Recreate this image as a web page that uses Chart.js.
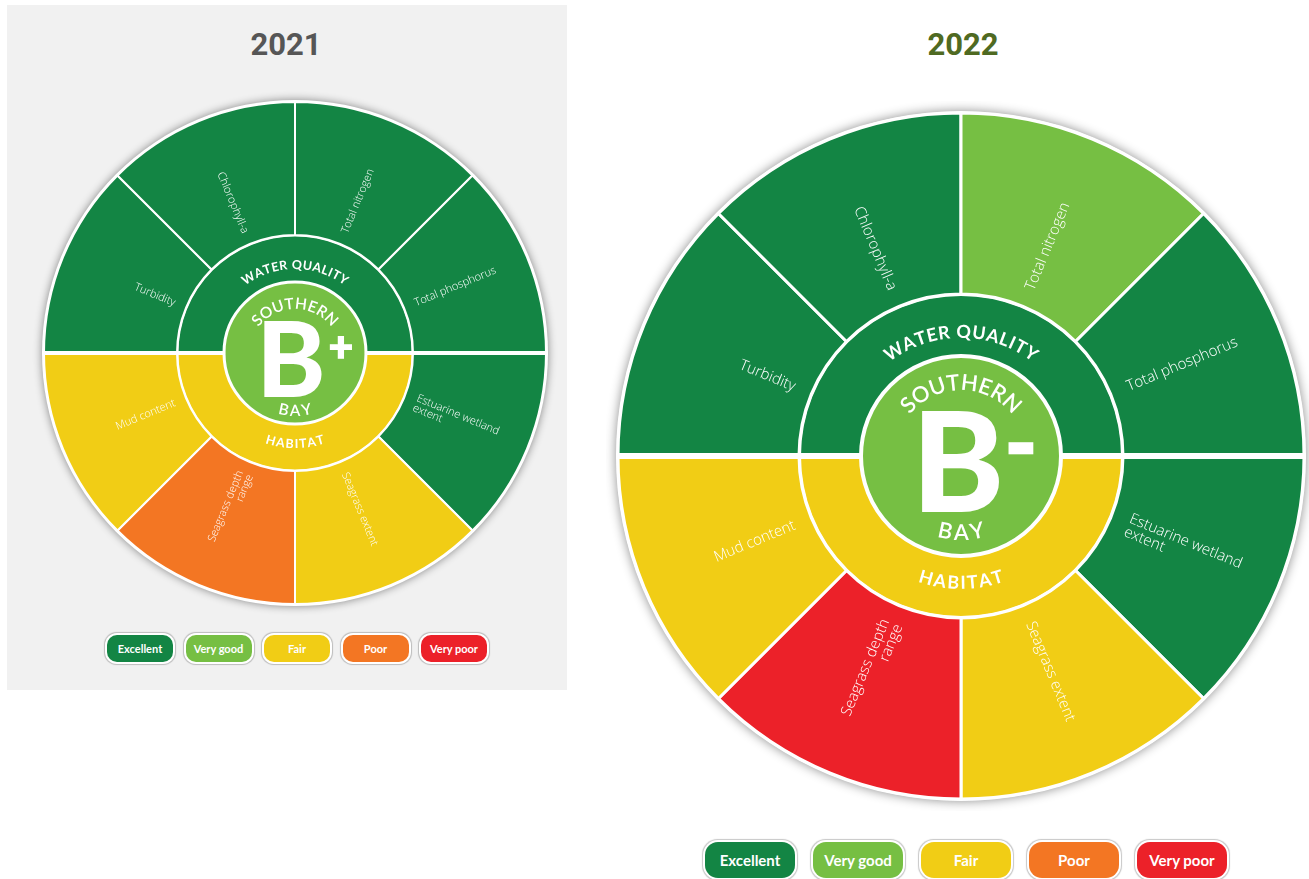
<!DOCTYPE html>
<html><head><meta charset="utf-8">
<script src="https://cdn.jsdelivr.net/npm/chart.js@4.4.1/dist/chart.umd.min.js"></script>
<style>
html,body{margin:0;padding:0;background:#fff;overflow:hidden;width:1309px;height:879px;position:relative;font-family:Lato,'Open Sans',sans-serif}
#panel2021{position:absolute;left:7px;top:5px;width:560px;height:685px;background:#f1f1f1}
.title{position:absolute;font-family:Roboto,sans-serif;font-weight:700;font-size:31px;line-height:31px;transform:translateX(-50%);top:29px;white-space:nowrap}
canvas{position:absolute}
.legend{position:absolute;display:flex}
.pill{color:#fff;font-weight:700;display:flex;align-items:center;justify-content:center;box-shadow:0 0 0 2px #fff,0 0 1px 2.6px rgba(0,0,0,0.22);font-family:Lato,sans-serif}
</style></head><body>
<div id="panel2021"></div>
<div class="title" id="t2021" style="left:286px;color:#565656"></div>
<div class="title" id="t2022" style="left:963px;color:#4f6a22"></div>
<canvas id="c2021" width="540" height="540" style="left:25px;top:83px"></canvas>
<canvas id="c2022" width="710" height="710" style="left:606px;top:101px"></canvas>
<div class="legend" id="l2021" style="left:107px;top:635px"></div>
<div class="legend" id="l2022" style="left:705px;top:842px"></div>
<script>
// ---- data ----
const years = ['2021', '2022'];
const ratingNames = ['Excellent', 'Very good', 'Fair', 'Poor', 'Very poor'];
const ratingColors = ['#138544', '#76bf43', '#f1cd15', '#f37623', '#ec2129'];
const indicators = ['Turbidity', 'Chlorophyll-a', 'Total nitrogen', 'Total phosphorus', 'Estuarine wetland extent', 'Seagrass extent', 'Seagrass depth range', 'Mud content'];
const indicatorLines = [['Turbidity'], ['Chlorophyll-a'], ['Total nitrogen'], ['Total phosphorus'], ['Estuarine wetland', 'extent'], ['Seagrass extent'], ['Seagrass depth', 'range'], ['Mud content']];
const indicatorWeights = [1, 1, 1, 1, 1, 1, 1, 1];
const indices = ['Water quality', 'Habitat'];
const indexWeights = [1, 1];
const regionWords = ['SOUTHERN', 'BAY'];
const indicatorGrades2021 = ['Excellent', 'Excellent', 'Excellent', 'Excellent', 'Excellent', 'Fair', 'Poor', 'Fair'];
const indicatorGrades2022 = ['Excellent', 'Excellent', 'Very good', 'Excellent', 'Excellent', 'Fair', 'Very poor', 'Fair'];
const indexGrades2021 = ['Excellent', 'Fair'];
const indexGrades2022 = ['Excellent', 'Fair'];
const overallRating2021 = 'Very good';
const overallRating2022 = 'Very good';
const overallGrade2021 = ['B', '+'];
const overallGrade2022 = ['B', '-'];

const colorOf = g => ratingColors[ratingNames.indexOf(g)];

function arcText(ctx, text, cx, cy, r, top, spacing) {
  const chars = [...text];
  const ws = chars.map(c => ctx.measureText(c).width);
  const total = ws.reduce((a, b) => a + b, 0) + spacing * (chars.length - 1);
  let acc = 0;
  ctx.textAlign = 'center'; ctx.textBaseline = 'middle';
  chars.forEach((c, i) => {
    const s = (acc + ws[i] / 2) / r;
    const a = top ? -Math.PI / 2 - total / (2 * r) + s : Math.PI / 2 + total / (2 * r) - s;
    ctx.save();
    ctx.translate(cx + r * Math.cos(a), cy + r * Math.sin(a));
    ctx.rotate(top ? a + Math.PI / 2 : a - Math.PI / 2);
    ctx.fillText(c, 0, 0);
    ctx.restore();
    acc += ws[i] + spacing;
  });
}

const ringDecor = {
  id: 'ringDecor',
  beforeDatasetsDraw(chart, args, o) {
    const a = chart.getDatasetMeta(0).data[0];
    const ctx = chart.ctx;
    ctx.save();
    ctx.shadowColor = 'rgba(0,0,0,0.45)';
    ctx.shadowBlur = o.shadowBlur;
    ctx.fillStyle = '#fff';
    ctx.beginPath(); ctx.arc(a.x, a.y, a.outerRadius + o.rim, 0, Math.PI * 2); ctx.fill();
    ctx.restore();
  },
  afterDatasetsDraw(chart, args, o) {
    const ctx = chart.ctx;
    const outer = chart.getDatasetMeta(0).data;
    const mid = chart.getDatasetMeta(1).data;
    const core = chart.getDatasetMeta(2).data[0];
    const cx = core.x, cy = core.y, R = outer[0].outerRadius, rC = core.outerRadius;
    ctx.save();
    // horizontal separator between the two halves
    ctx.fillStyle = '#fff';
    ctx.fillRect(cx - R - 2, cy - o.gap / 2, R + 2 - rC, o.gap);
    ctx.fillRect(cx + rC, cy - o.gap / 2, R + 2 - rC, o.gap);
    // indicator labels
    ctx.fillStyle = '#fff';
    ctx.font = `300 ${o.labelSize}px 'Open Sans', Lato, sans-serif`;
    outer.forEach((arc, i) => {
      const a = (arc.startAngle + arc.endAngle) / 2;
      const r0 = arc.innerRadius + o.labelOffset;
      const right = Math.cos(a) >= 0;
      ctx.save();
      ctx.translate(cx + r0 * Math.cos(a), cy + r0 * Math.sin(a));
      ctx.rotate(right ? a : a + Math.PI);
      ctx.textAlign = right ? 'left' : 'right';
      ctx.textBaseline = 'middle';
      const lines = indicatorLines[i];
      const lh = o.labelSize * 0.95;
      lines.forEach((ln, j) => ctx.fillText(ln, 0, (j - (lines.length - 1) / 2) * lh));
      ctx.restore();
    });
    // index labels (curved)
    ctx.font = `700 ${o.indexSize}px Lato, sans-serif`;
    mid.forEach((arc, i) => {
      const a = (arc.startAngle + arc.endAngle) / 2;
      const top = Math.sin(a) < 0;
      arcText(ctx, indices[i].toUpperCase(), cx, cy, top ? o.indexR : o.indexR + o.indexBottomAdj, top, o.indexSpacing);
    });
    // centre
    ctx.font = `600 ${o.regionSize}px Lato, sans-serif`;
    arcText(ctx, regionWords[0], cx, cy + o.coreDy, o.regionTopR, true, o.regionSpacing);
    arcText(ctx, regionWords[1], cx, cy + o.coreDy, o.regionBottomR, false, o.regionSpacing);
    ctx.textAlign = 'center'; ctx.textBaseline = 'alphabetic';
    ctx.font = `900 ${o.gradeSize}px Lato, sans-serif`;
    ctx.fillText(o.grade[0], cx + o.gradeDx, cy + o.gradeBase);
    ctx.font = `900 ${o.modSize}px Lato, sans-serif`;
    ctx.textBaseline = 'middle';
    ctx.lineWidth = o.modStroke; ctx.strokeStyle = '#fff'; ctx.lineJoin = 'miter';
    ctx.fillText(o.grade[1], cx + o.modDx, cy + o.modDy);
    ctx.strokeText(o.grade[1], cx + o.modDx, cy + o.modDy);
    ctx.restore();
  }
};

function makeChart(id, grades, idxGrades, overall, grade, g) {
  return new Chart(document.getElementById(id), {
    type: 'doughnut',
    data: {
      labels: indicators,
      datasets: [
        { data: indicatorWeights, backgroundColor: grades.map(colorOf), borderColor: '#fff', borderWidth: g.bOuter, weight: g.wOuter, radius: g.R },
        { data: indexWeights, backgroundColor: idxGrades.map(colorOf), borderColor: '#fff', borderWidth: g.bMid, weight: g.wMid, radius: g.R },
        { data: [1], backgroundColor: [colorOf(overall)], borderWidth: 0, weight: g.wCore, radius: g.R }
      ]
    },
    options: {
      responsive: false, animation: false, cutout: 0, rotation: -90, radius: g.R,
      layout: { padding: 0 },
      events: [],
      plugins: { legend: { display: false }, tooltip: { enabled: false }, ringDecor: Object.assign({ grade }, g.deco) }
    },
    plugins: [ringDecor]
  });
}

makeChart('c2021', indicatorGrades2021, indexGrades2021, overallRating2021, overallGrade2021, {
  R: 251, wOuter: 133, wMid: 47, wCore: 71, bOuter: 2, bMid: 3,
  deco: { shadowBlur: 9, rim: 2, gap: 4, labelSize: 11, labelOffset: 12, indexSize: 12.5, indexR: 88, indexBottomAdj: 3, indexSpacing: 0.8,
    regionSize: 15.5, regionTopR: 51, regionBottomR: 56, regionSpacing: 1.2, coreDy: 2, gradeSize: 104, gradeDx: -4, gradeBase: 44, modSize: 42, modDx: 46, modDy: -6, modStroke: 1.5 }
});
makeChart('c2022', indicatorGrades2022, indexGrades2022, overallRating2022, overallGrade2022, {
  R: 343, wOuter: 181, wMid: 62, wCore: 100, bOuter: 3, bMid: 4,
  deco: { shadowBlur: 11, rim: 2, gap: 6, labelSize: 15, labelOffset: 18, indexSize: 18, indexR: 124, indexBottomAdj: 3, indexSpacing: 1.2,
    regionSize: 22, regionTopR: 73, regionBottomR: 77, regionSpacing: 1.4, coreDy: 0, gradeSize: 140, gradeDx: -3, gradeBase: 56, modSize: 84, modDx: 60, modDy: -9, modStroke: 2.5 }
});

// titles and legends
document.getElementById('t2021').textContent = years[0];
document.getElementById('t2022').textContent = years[1];
function legend(id, w, h, gap, fs, rad) {
  const el = document.getElementById(id);
  el.style.gap = gap + 'px';
  ratingNames.forEach((n, i) => {
    const d = document.createElement('div');
    d.className = 'pill';
    d.textContent = n;
    Object.assign(d.style, { width: w + 'px', height: h + 'px', background: ratingColors[i], fontSize: fs + 'px', borderRadius: rad + 'px' });
    el.appendChild(d);
  });
}
legend('l2021', 66, 27, 12.5, 11, 10);
legend('l2022', 90, 36, 18, 15, 13);
</script>
</body></html>
